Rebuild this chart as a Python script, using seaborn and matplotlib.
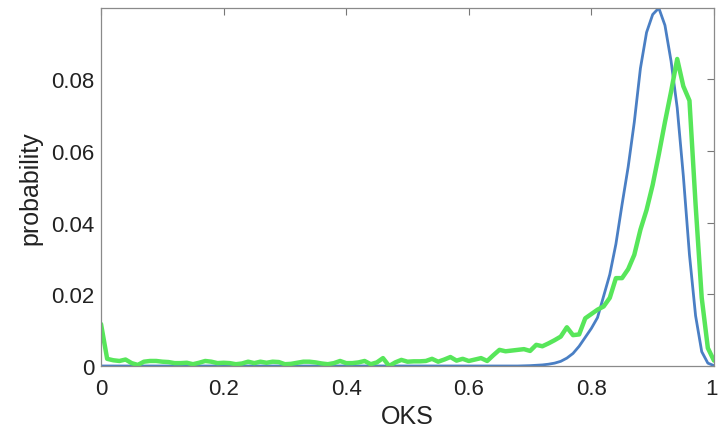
import pandas as pd
import seaborn as sns
import matplotlib.pyplot as plt
from matplotlib.transforms import ScaledTranslation

# OKS bins (0.00 .. 1.00 in steps of 0.01)
oks = [i / 100 for i in range(101)]

# blue series
blue_prob = [
    0.0, 0.0, 0.0, 0.0, 0.0, 0.0, 0.0, 0.0, 0.0, 0.0,
    0.0, 0.0, 0.0, 0.0, 0.0, 0.0, 0.0, 0.0, 0.0, 0.0,
    0.0, 0.0, 0.0, 0.0, 0.0, 0.0, 0.0, 0.0, 0.0, 0.0,
    0.0, 0.0, 0.0, 0.0, 0.0, 0.0, 0.0, 0.0, 0.0, 0.0,
    0.0, 0.0, 0.0, 0.0, 0.0, 0.0, 0.0, 0.0, 0.0, 0.0,
    0.0, 0.0, 0.0, 0.0, 0.0, 0.0, 0.0, 0.0, 0.0, 0.0,
    0.0, 0.0, 0.0, 0.0, 0.0, 0.0, 0.0, 0.0, 0.0, 0.00005,
    0.0001, 0.0002, 0.0003, 0.0005, 0.0008, 0.0013, 0.0022, 0.0035, 0.0055, 0.0080,
    0.0105, 0.0135, 0.0195, 0.0255, 0.0340, 0.0450, 0.0555, 0.0680, 0.0830, 0.0930,
    0.0980, 0.0998, 0.0950, 0.0850, 0.0720, 0.0530, 0.0310, 0.0140, 0.0040, 0.0008,
    0.0001,
]

# green series
green_prob = [
    0.0117, 0.0020, 0.0016, 0.0014, 0.0018, 0.0008, 0.0003, 0.0012, 0.0014, 0.0014,
    0.0012, 0.0011, 0.0008, 0.0008, 0.0009, 0.0005, 0.0009, 0.0014, 0.0012, 0.0008,
    0.0009, 0.0008, 0.0005, 0.0007, 0.0012, 0.0008, 0.0012, 0.0009, 0.0012, 0.0011,
    0.0005, 0.0006, 0.0009, 0.0012, 0.0012, 0.0010, 0.0007, 0.0005, 0.0008, 0.0014,
    0.0008, 0.0008, 0.0010, 0.0014, 0.0005, 0.0010, 0.0022, 0.0000, 0.0010, 0.0017,
    0.0012, 0.0013, 0.0013, 0.0014, 0.0020, 0.0012, 0.0018, 0.0025, 0.0015, 0.0020,
    0.0014, 0.0018, 0.0022, 0.0014, 0.0030, 0.0045, 0.0041, 0.0043, 0.0045, 0.0047,
    0.0042, 0.0059, 0.0055, 0.0063, 0.0072, 0.0082, 0.0108, 0.0086, 0.0088, 0.0133,
    0.0145, 0.0157, 0.0166, 0.0190, 0.0245, 0.0245, 0.0270, 0.0310, 0.0380, 0.0435,
    0.0505, 0.0590, 0.0680, 0.0765, 0.0856, 0.0780, 0.0740, 0.0450, 0.0190, 0.0050,
    0.0015,
]

x_ticks = [0, 0.2, 0.4, 0.6, 0.8, 1]
x_tick_labels = ['0', '0.2', '0.4', '0.6', '0.8', '1']
y_ticks = [0, 0.02, 0.04, 0.06, 0.08]
y_tick_labels = ['0', '0.02', '0.04', '0.06', '0.08']

blue_color = '#4a7fc4'
green_color = '#57e65a'

sns.set_style('white')
plt.rcParams['font.family'] = ['Liberation Sans', 'DejaVu Sans']

data = pd.DataFrame({'OKS': oks, 'blue': blue_prob, 'green': green_prob})

fig = plt.figure(figsize=(7.18, 4.31), dpi=100)
ax = fig.add_axes([0.1407, 0.1485, 0.8537, 0.8305])

sns.lineplot(data=data, x='OKS', y='blue', ax=ax, color=blue_color,
             linewidth=2.0)
sns.lineplot(data=data, x='OKS', y='green', ax=ax, color=green_color,
             linewidth=3.2)

ax.set_xlim(0, 1)
ax.set_ylim(0, max(blue_prob))
ax.set_xticks(x_ticks)
ax.set_xticklabels(x_tick_labels)
ax.set_yticks(y_ticks)
ax.set_yticklabels(y_tick_labels)
ax.tick_params(direction='in', length=5, width=0.8, color='#777777',
               labelsize=16, labelcolor='#222222', top=True, right=True)
ax.tick_params(axis='x', pad=9)
ax.tick_params(axis='y', pad=5)
for side in ['left', 'right', 'top', 'bottom']:
    ax.spines[side].set_visible(True)
    ax.spines[side].set_color('#8a8a8a')
    ax.spines[side].set_linewidth(0.9)

# keep the last x tick label inside the figure
last = ax.get_xticklabels()[-1]
last.set_transform(last.get_transform() +
                   ScaledTranslation(-2 / 100, 0, fig.dpi_scale_trans))

ax.set_xlabel('OKS', fontsize=18, color='#222222', labelpad=3)
ax.set_ylabel('probability', fontsize=18, color='#222222', labelpad=6)

plt.savefig('out.png', dpi=100)
